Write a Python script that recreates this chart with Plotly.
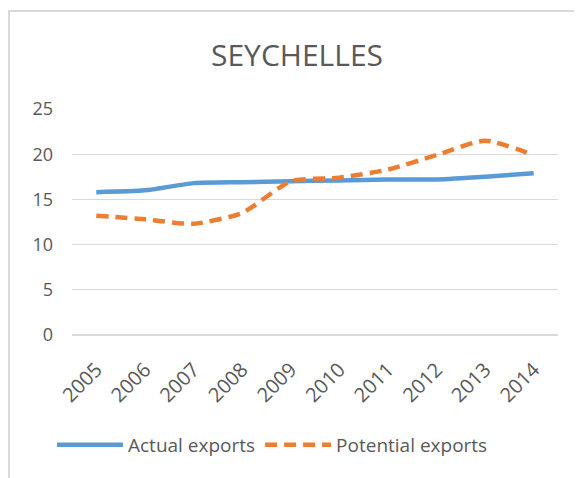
import plotly.graph_objects as go

years = ["2005", "2006", "2007", "2008", "2009", "2010", "2011", "2012", "2013", "2014"]
actual_exports = [15.8, 16.0, 16.8, 16.9, 17.0, 17.1, 17.2, 17.2, 17.5, 17.9]
potential_exports = [13.2, 12.8, 12.3, 13.5, 17.0, 17.4, 18.3, 19.9, 21.5, 19.9]
y_ticks = [0, 5, 10, 15, 20, 25]

W, H = 582, 478
OFF = 8  # page body margin offset
L, T = 72 - OFF, 109 - OFF
pw, ph = 486, 226
R, B = W - L - pw, H - T - ph

font_family = "Open Sans, Lato, sans-serif"
grey = "#595959"

fig = go.Figure()
fig.add_trace(go.Scatter(
    x=years, y=actual_exports, name="Actual exports", mode="lines",
    line=dict(color="#5b9bd5", width=4.5, shape="spline", smoothing=0.6),
))
fig.add_trace(go.Scatter(
    x=years, y=potential_exports, name="Potential exports", mode="lines",
    line=dict(color="#ed7d31", width=4.5, dash="12px,7px", shape="spline", smoothing=0.6),
))

def px_x(px):
    return (px - OFF - L) / pw

def px_y(py):
    return (T + ph - (py - OFF)) / ph

fig.update_layout(
    width=W, height=H,
    margin=dict(l=L, r=R, t=T, b=B, autoexpand=False),
    paper_bgcolor="white", plot_bgcolor="white",
    font=dict(family=font_family, color=grey, size=17),
    title=dict(text="SEYCHELLES", x=(297 - OFF) / W, xanchor="center", y=1 - (55 - OFF) / H,
               yanchor="middle", font=dict(size=30, color=grey, family=font_family), automargin=False),
    showlegend=True,
    legend=dict(orientation="h", x=px_x(52), xanchor="left", y=px_y(445), yanchor="middle",
                font=dict(size=19, color=grey), itemwidth=66, traceorder="normal"),
    xaxis=dict(type="category", tickangle=-45, showgrid=False, showline=False, ticks="",
               tickfont=dict(size=20, color=grey), range=[-0.5, 9.5], automargin=False,
               ticklabelstandoff=18),
    yaxis=dict(range=[0, 25], tickvals=y_ticks, showgrid=True, gridcolor="#d9d9d9", gridwidth=1.3,
               zeroline=True, zerolinecolor="#d9d9d9", zerolinewidth=1.5, showline=False,
               ticks="", ticklabelstandoff=18, tickfont=dict(size=18, color=grey), automargin=False),
    shapes=[
        dict(type="line", xref="paper", yref="paper", x0=px_x(9), x1=px_x(9), y0=px_y(10), y1=px_y(486),
             line=dict(color="#d9d9d9", width=2)),
        dict(type="line", xref="paper", yref="paper", x0=px_x(8), x1=px_x(590), y0=px_y(11), y1=px_y(11),
             line=dict(color="#d9d9d9", width=2)),
    ],
)

fig.write_html("out.html")
